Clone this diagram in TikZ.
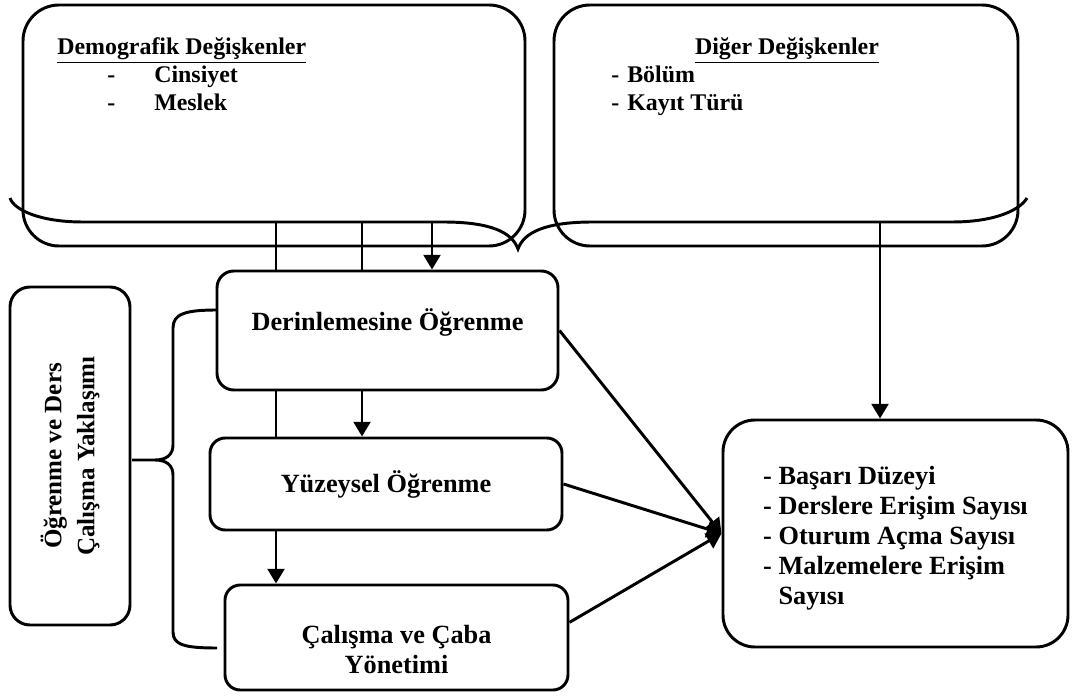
\documentclass[tikz,border=0pt]{standalone}
\usepackage{fontspec}
\setmainfont{Liberation Serif}
\usetikzlibrary{arrows.meta, backgrounds}

\begin{document}
\begin{tikzpicture}[
  box/.style={draw, line width=2.1pt, fill=white, align=center, inner sep=0pt,
    font=\bfseries\fontsize{18.7}{21.3}\selectfont},
  hdr/.style={inner sep=0pt, font=\bfseries\fontsize{17}{19.9}\selectfont},
  arr/.style={line width=2.1pt, -{Triangle[length=10.5pt, width=12pt]}},
  brace/.style={line width=2.1pt}
]
  \useasboundingbox (0, 0) rectangle (26.8, 17.375);

  % Top boxes
  \node[box, fill=none, rounded corners=0.9cm, minimum width=12.55cm, minimum height=6.025cm] (demo) at (6.85, 14.2375) {};
  \node[box, fill=none, rounded corners=0.9cm, minimum width=11.6cm, minimum height=6.025cm] (diger) at (19.65, 14.2375) {};

  \node[hdr, anchor=base west] (demohead) at (1.425, 16.0) {\underline{Demografik Değişkenler}};
  \node[hdr, anchor=base west] (demoa) at (2.675, 15.3) {\makebox[1.175cm][l]{-}Cinsiyet};
  \node[hdr, anchor=base west] (demob) at (2.675, 14.6) {\makebox[1.175cm][l]{-}Meslek};

  \node[hdr, anchor=base] (digerhead) at (19.675, 16.0) {\underline{Diğer Değişkenler}};
  \node[hdr, anchor=base west] (digera) at (15.275, 15.3) {\makebox[0.4cm][l]{-}Bölüm};
  \node[hdr, anchor=base west] (digerb) at (15.275, 14.6) {\makebox[0.4cm][l]{-}Kayıt Türü};

  % Learning approach boxes
  \node[box, rounded corners=0.42cm, minimum width=8.525cm, minimum height=2.975cm, text height=11pt, text depth=11pt] (derin) at (9.6875, 9.1125) {Derinlemesine Öğrenme};
  \node[box, rounded corners=0.38cm, minimum width=8.8cm, minimum height=2.3cm] (yuz) at (9.65, 5.275) {Yüzeysel Öğrenme};
  \node[box, rounded corners=0.38cm, minimum width=8.575cm, minimum height=2.625cm] (cal) at (9.9125, 1.4375) {\rule{0pt}{30pt}Çalışma ve Çaba\\Yönetimi};

  \node[box, rotate=90, rounded corners=0.5cm, minimum width=8.45cm, minimum height=3cm,
    font=\bfseries\fontsize{17.8}{23.5}\selectfont] (yaklasim) at (1.75, 5.975) {Öğrenme ve Ders\\Çalışma Yaklaşımı};

  % Outcomes
  \node[box, align=left, rounded corners=0.8cm, minimum width=8.625cm, minimum height=5.675cm] (basari) at (22.3875, 4.0375) {
    \rule{0pt}{20pt}- Başarı Düzeyi\\- Derslere Erişim Sayısı\\- Oturum Açma Sayısı\\- Malzemelere Erişim\\\hphantom{- }Sayısı};

  % Curly brace under the top boxes
  \draw[brace] (0.25, 12.425) .. controls (0.35, 12.125) and (1.0, 11.825) .. (2.075, 11.825)
    -- (11.075, 11.825) .. controls (12.25, 11.825) and (12.8, 11.575) .. (12.95, 11.15)
    .. controls (13.1, 11.575) and (13.65, 11.825) .. (14.825, 11.825)
    -- (23.8, 11.825) .. controls (24.875, 11.825) and (25.5, 12.125) .. (25.675, 12.425);

  % Curly brace of the approaches
  \draw[brace] (5.425, 9.625) .. controls (4.625, 9.625) and (4.325, 9.525) .. (4.325, 9.175)
    -- (4.325, 6.25) .. controls (4.325, 6.0) and (4.15, 5.875) .. (3.875, 5.875)
    -- (3.3, 5.875) -- (3.875, 5.875) .. controls (4.15, 5.875) and (4.325, 5.75) .. (4.325, 5.5)
    -- (4.325, 1.575) .. controls (4.325, 1.25) and (4.625, 1.175) .. (5.425, 1.175);

  \coordinate (b1) at (6.9, 11.825);
  \coordinate (b2) at (9.05, 11.825);
  \coordinate (b3) at (10.8, 11.825);
  \coordinate (b4) at (22.0, 11.825);

  % Arrows
  \begin{scope}[on background layer]
    \draw[arr] (b1) -- (b1 |- cal.north);
    \draw[arr] (b2) -- (b2 |- yuz.north);
    \draw[arr] (b3) -- (b3 |- derin.north);
    \draw[arr] (b4) -- (b4 |- basari.north);
    \draw[arr] (derin.east) -- (basari.west);
    \draw[arr] (yuz.east) -- (basari.west);
    \draw[arr] (cal.5) -- (basari.west);
  \end{scope}
\end{tikzpicture}
\end{document}
